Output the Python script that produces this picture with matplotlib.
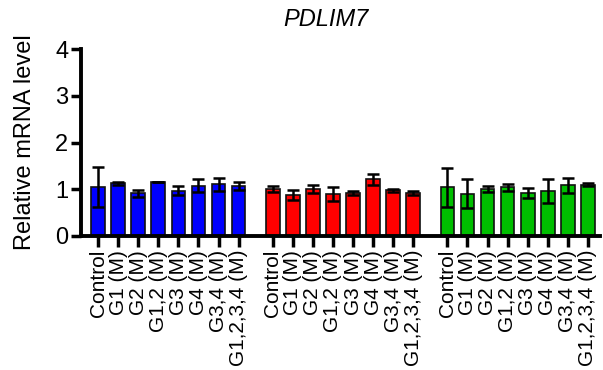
import numpy as np
import matplotlib.pyplot as plt

plt.rcParams['font.family'] = ['Liberation Sans', 'DejaVu Sans']

labels = ["Control", "G1 (M)", "G2 (M)", "G1,2 (M)", "G3 (M)",
          "G4 (M)", "G3,4 (M)", "G1,2,3,4 (M)"]

blue_mean = [1.05, 1.13, 0.91, 1.15, 0.97, 1.08, 1.11, 1.07]
blue_err = [0.43, 0.03, 0.07, 0.0, 0.10, 0.13, 0.14, 0.09]

red_mean = [1.00, 0.88, 1.01, 0.89, 0.92, 1.21, 0.98, 0.92]
red_err = [0.06, 0.10, 0.08, 0.15, 0.04, 0.11, 0.03, 0.05]

green_mean = [1.04, 0.90, 1.01, 1.04, 0.92, 0.96, 1.09, 1.10]
green_err = [0.42, 0.31, 0.06, 0.08, 0.10, 0.25, 0.16, 0.03]

groups = [
    (blue_mean, blue_err, "#0000ff"),
    (red_mean, red_err, "#ff0000"),
    (green_mean, green_err, "#00bf00"),
]
group_offset = 8.7

fig = plt.figure(figsize=(6.03, 3.70), dpi=100)
ax = fig.add_axes([81 / 603, 1 - 236 / 370, 519 / 603, 187 / 370])

ticks, ticklabels = [], []
for g, (mean, err, color) in enumerate(groups):
    x = np.arange(len(mean)) + g * group_offset
    ax.bar(x, mean, width=0.68, color=color, edgecolor="#111111",
           linewidth=1.2, zorder=2)
    ax.errorbar(x, mean, yerr=err, fmt="none", ecolor="black",
                elinewidth=1.8, capsize=4, capthick=1.8, zorder=3)
    ticks.extend(x)
    ticklabels.extend(labels)

ax.set_xlim(-0.85, 25.0)
ax.set_ylim(0, 4)
ax.set_yticks([0, 1, 2, 3, 4])
ax.tick_params(axis="y", labelsize=17, width=2.5, length=7, pad=2)
ax.set_xticks(ticks)
ax.set_xticklabels(ticklabels, rotation=90, fontsize=15)
ax.tick_params(axis="x", width=2.5, length=8, pad=2)

for side in ["top", "right"]:
    ax.spines[side].set_visible(False)
for side in ["left", "bottom"]:
    ax.spines[side].set_linewidth(2.8)

ax.set_ylabel("Relative mRNA level", fontsize=17, labelpad=14)
fig.text(326 / 603, 1 - 20 / 370, "PDLIM7", fontsize=17, style="italic",
         ha="center", va="center")

fig.savefig("out.png", dpi=100)
